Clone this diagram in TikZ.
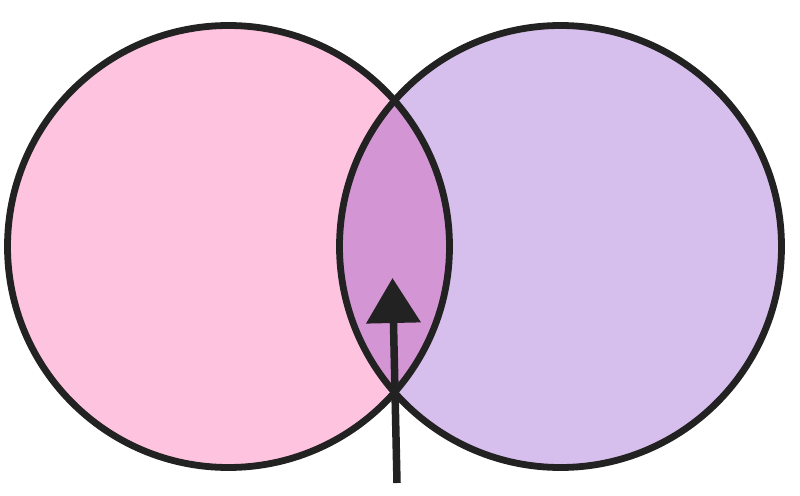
\documentclass[tikz,border=0pt]{standalone}
\usetikzlibrary{arrows.meta}
\definecolor{pinkfill}{HTML}{FEC3DF}
\definecolor{lavfill}{HTML}{D6BFEC}
\definecolor{midfill}{HTML}{D495D4}
\definecolor{ink}{HTML}{222222}
\begin{document}
\begin{tikzpicture}[x=1pt,y=-1pt,
  setcircle/.style={circle, minimum size=442pt, inner sep=0pt, outer sep=0pt},
  outline/.style={draw=ink, line width=6.8pt},
  pointer/.style={draw=ink, line width=7.5pt, -{Triangle[width=53pt,length=45pt]}}]
\useasboundingbox (0,0) rectangle (800,495);
\node[setcircle, fill=pinkfill] (A) at (228.5,246.5) {};
\node[setcircle, fill=lavfill] (B) at (560.5,246.5) {};
\begin{scope}
  \clip (A.center) circle (221pt);
  \fill[midfill] (B.center) circle (221pt);
\end{scope}
\draw[outline] (A.center) circle (221pt);
\draw[outline] (B.center) circle (221pt);
\coordinate (tail) at (397,483);
\coordinate (tip) at (392.5,278);
\draw[pointer] (tail) -- (tip);
\end{tikzpicture}
\end{document}
